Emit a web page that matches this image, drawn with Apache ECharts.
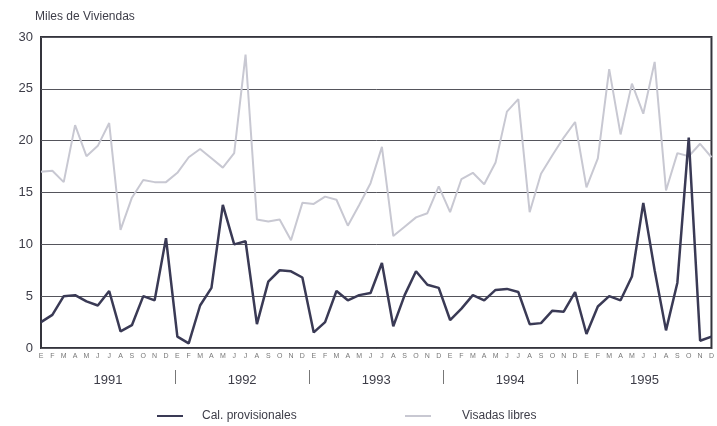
<!DOCTYPE html>
<html lang="es">
<head>
	<meta charset="UTF-8">
	<title>Viviendas</title>
	<style type="text/css">
		html, body { margin: 0; padding: 0; background: #fff; }
		#a { width: 717px; height: 426px; }
	</style>
</head>
<body>
	<div id="a"></div>
	<script type="text/javascript" src="https://cdn.jsdelivr.net/npm/echarts@6/dist/echarts.min.js"></script>
	<script type="text/javascript">
		// datos: miles de viviendas, mensual 1991-1995
		var years = ['1991', '1992', '1993', '1994', '1995'];
		var monthLetters = ['E', 'F', 'M', 'A', 'M', 'J', 'J', 'A', 'S', 'O', 'N', 'D'];
		var calProvisionales = [
			2.5, 3.2, 5.0, 5.1, 4.5, 4.1, 5.5, 1.6, 2.2, 5.0, 4.6, 10.6,
			1.1, 0.45, 4.1, 5.8, 13.8, 10.0, 10.3, 2.3, 6.4, 7.5, 7.4, 6.8,
			1.5, 2.5, 5.5, 4.6, 5.1, 5.3, 8.2, 2.1, 5.1, 7.4, 6.1, 5.8,
			2.7, 3.8, 5.1, 4.6, 5.6, 5.7, 5.4, 2.3, 2.4, 3.6, 3.5, 5.4,
			1.35, 4.0, 5.0, 4.6, 6.9, 14.0, 7.5, 1.7, 6.3, 20.3, 0.7, 1.1
		];
		var visadasLibres = [
			17.0, 17.1, 16.0, 21.5, 18.5, 19.5, 21.7, 11.4, 14.5, 16.2, 16.0, 16.0,
			16.9, 18.4, 19.2, 18.3, 17.4, 18.8, 28.3, 12.4, 12.2, 12.4, 10.4, 14.0,
			13.9, 14.6, 14.3, 11.8, 13.8, 15.9, 19.4, 10.8, 11.7, 12.6, 13.0, 15.6,
			13.1, 16.3, 16.9, 15.8, 17.9, 22.8, 24.0, 13.1, 16.8, 18.6, 20.3, 21.8,
			15.5, 18.3, 26.9, 20.6, 25.5, 22.6, 27.6, 15.2, 18.8, 18.5, 19.7, 18.4
		];

		// una letra por mes
		var months = [];
		for (var y = 0; y < years.length; y++) {
			for (var m = 0; m < monthLetters.length; m++) {
				months.push(monthLetters[m]);
			}
		}

		var txt = '#3d3d48';
		var font = 'Liberation Sans';
		var myChart = echarts.init(document.getElementById('a'));

		var option = {
			animation: false,
			title: {
				text: 'Miles de Viviendas',
				left: 30,
				top: 6,
				textStyle: { fontFamily: font, fontSize: 12, fontWeight: 'normal', color: txt }
			},
			legend: [
				{
					data: ['Cal. provisionales'],
					left: 152, top: 405,
					icon: 'rect', itemWidth: 26, itemHeight: 2,
					textStyle: { fontFamily: font, fontSize: 12, color: txt, padding: [0, 0, 0, 14] }
				},
				{
					data: ['Visadas libres'],
					left: 400, top: 405,
					icon: 'rect', itemWidth: 26, itemHeight: 2,
					textStyle: { fontFamily: font, fontSize: 12, color: txt, padding: [0, 0, 0, 26] }
				}
			],
			grid: {
				left: 41, right: 1, top: 37, bottom: 78,
				show: true, borderColor: '#34343c', borderWidth: 2
			},
			xAxis: [
				{
					type: 'category',
					data: months,
					boundaryGap: false,
					axisLine: { show: false },
					axisTick: { show: false },
					axisLabel: { interval: 0, margin: 5, fontFamily: font, fontSize: 7, color: '#777' }
				},
				{
					// años con separadores
					type: 'value',
					min: 0, max: years.length,
					position: 'bottom',
					offset: 22,
					axisLine: { show: false },
					splitLine: { show: false },
					axisTick: { show: true, customValues: [1, 2, 3, 4], length: 14, lineStyle: { color: '#777', width: 1 } },
					axisLabel: {
						customValues: [0.5, 1.5, 2.5, 3.5, 4.5],
						margin: 4,
						fontFamily: font, fontSize: 13, color: txt,
						formatter: function (v) { return years[Math.floor(v)]; }
					}
				}
			],
			yAxis: {
				type: 'value',
				min: 0, max: 30, interval: 5,
				axisLine: { show: false },
				axisTick: { show: false },
				axisLabel: { margin: 8, fontFamily: font, fontSize: 13, color: txt },
				splitLine: { lineStyle: { color: '#55555c', width: 1 } }
			},
			series: [
				{
					name: 'Cal. provisionales',
					type: 'line',
					data: calProvisionales,
					symbol: 'none',
					z: 3,
					color: '#3a3a55',
					lineStyle: { color: '#3a3a55', width: 2.5 }
				},
				{
					name: 'Visadas libres',
					type: 'line',
					data: visadasLibres,
					symbol: 'none',
					z: 2,
					color: '#c8c8d2',
					lineStyle: { color: '#c8c8d2', width: 2 }
				}
			]
		};
		myChart.setOption(option);
	</script>
</body>
</html>
